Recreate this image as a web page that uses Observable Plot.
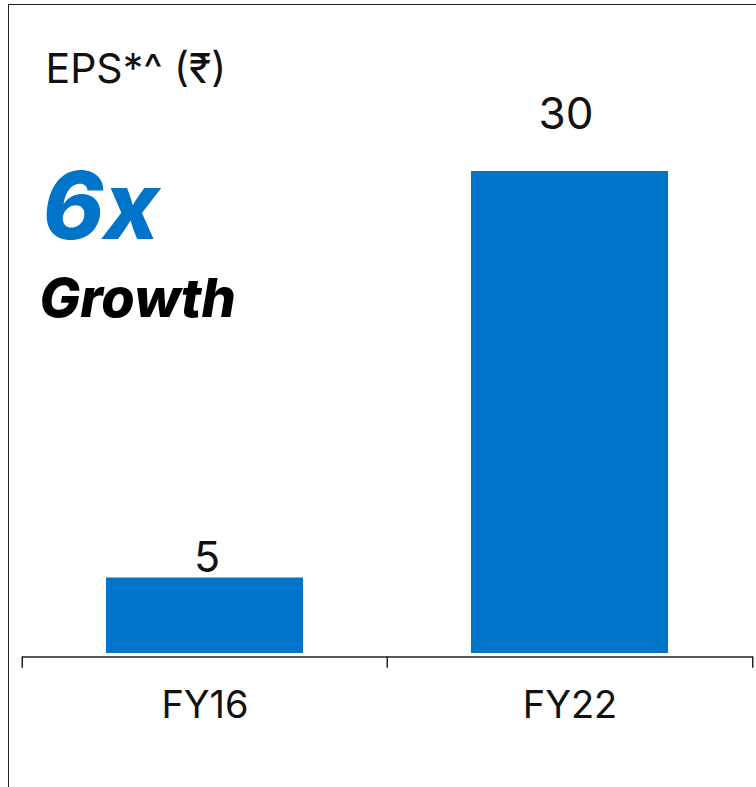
<!DOCTYPE html>
<html>
<head>
<meta charset="utf-8">
<script src="https://cdn.jsdelivr.net/npm/d3@7"></script>
<script src="https://cdn.jsdelivr.net/npm/@observablehq/plot@0.6"></script>
<style>
  html, body { margin: 0; padding: 0; background: #fff; }
  #wrap { position: relative; width: 756px; height: 787px; overflow: hidden; }
  #border { position: absolute; left: 8px; top: 4px; right: -2px; bottom: -2px;
            border-left: 1.5px solid #222; border-top: 1.5px solid #222; pointer-events: none; }
  svg { display: block; }
</style>
</head>
<body>
<div id="wrap"><div id="border"></div></div>
<script>
const categories = ["FY16", "FY22"];
const eps = [4.7, 30];
const valueLabels = ["5", "30"];
const titleText = "EPS*^ (₹)";
const multipleText = "6x";
const growthText = "Growth";

const data = categories.map((c, i) => ({ year: c, eps: eps[i], label: valueLabels[i] }));
const font = "Inter, 'Noto Sans', sans-serif";
const blue = "#0074C9";
const halfStep = (753 - 22) / categories.length / 2;

const chart = Plot.plot({
  width: 756,
  height: 787,
  marginLeft: 22,
  marginRight: 3,
  marginTop: 171,
  marginBottom: 134,
  style: { fontFamily: font, background: "transparent", overflow: "visible" },
  x: { domain: categories, paddingInner: 0.46, paddingOuter: 0.23, axis: null },
  y: { domain: [0, 30], axis: null },
  marks: [
    Plot.barY(data, { x: "year", y: "eps", fill: blue }),
    Plot.ruleY([0], { dy: 3.5, stroke: "#222", strokeWidth: 1.5 }),
    Plot.ruleX(categories, { x: d => d, dx: -halfStep, y1: -0.22, y2: -0.92, stroke: "#222", strokeWidth: 1.5 }),
    Plot.ruleX([categories[categories.length - 1]], { x: d => d, dx: halfStep, y1: -0.22, y2: -0.92, stroke: "#222", strokeWidth: 1.5 }),
    Plot.text(data, { x: "year", y: 0, text: "year", dy: 64, fontSize: 38, fill: "#111", lineAnchor: "bottom" }),
    Plot.text(data.filter(d => d.year === "FY16"), { x: "year", y: "eps", text: "label", dy: -6, dx: 2, fontSize: 43, fill: "#111", lineAnchor: "bottom" }),
    Plot.text(data.filter(d => d.year === "FY22"), { x: "year", y: "eps", text: "label", dy: -43, dx: -4, fontSize: 44, fill: "#111", lineAnchor: "bottom" }),
    Plot.text([titleText], { frameAnchor: "top-left", text: d => d, dx: 23, dy: -89, fontSize: 41, fill: "#111", textAnchor: "start", lineAnchor: "bottom" }),
    Plot.text([multipleText], { frameAnchor: "top-left", text: d => d, dx: 20, dy: 67, fontSize: 93, fontWeight: 800, fontStyle: "italic", fill: blue, textAnchor: "start", lineAnchor: "bottom" }),
    Plot.text([growthText], { frameAnchor: "top-left", text: d => d, dx: 17, dy: 145, fontSize: 54, fontWeight: 800, fontStyle: "italic", fill: "#000", textAnchor: "start", lineAnchor: "bottom" })
  ]
});
document.getElementById("wrap").prepend(chart);
</script>
</body>
</html>
